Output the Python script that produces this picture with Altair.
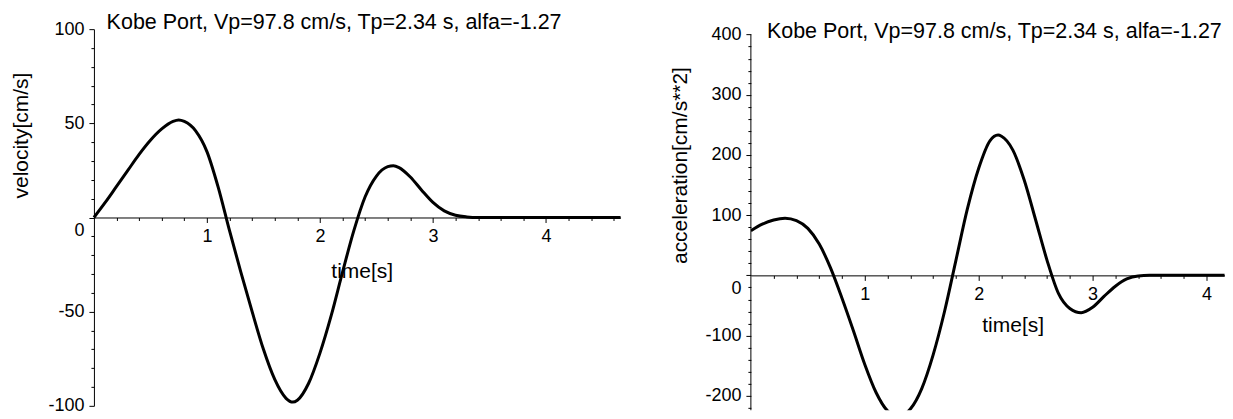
import altair as alt
import pandas as pd

TITLE = "Kobe Port, Vp=97.8 cm/s, Tp=2.34 s, alfa=-1.27"

# velocity curve
vel_time = [0, 0.1, 0.2, 0.3, 0.4, 0.5, 0.6, 0.7, 0.75, 0.8, 0.9, 1.0, 1.1, 1.2,
            1.3, 1.4, 1.5, 1.6, 1.7, 1.76, 1.8, 1.9, 2.0, 2.1, 2.2, 2.3, 2.4, 2.5,
            2.6, 2.65, 2.7, 2.8, 2.9, 3.0, 3.1, 3.2, 3.3, 3.4, 3.6, 4.0, 4.4, 4.66]
vel_value = [0, 8, 16.5, 25, 33.5, 41, 47, 51, 51.8, 51, 46, 35, 16, -7,
             -29, -50, -70, -86, -96, -98, -97, -88, -72, -52, -29, -7, 11, 22,
             27, 27.5, 26.5, 21.5, 14.5, 8, 3.5, 1.2, 0.3, 0, 0, 0, 0, 0]

# acceleration curve
acc_time = [0, 0.1, 0.2, 0.3, 0.4, 0.5, 0.6, 0.7, 0.8, 0.9, 1.0, 1.1, 1.2, 1.3,
            1.4, 1.5, 1.6, 1.7, 1.8, 1.9, 2.0, 2.1, 2.17, 2.2, 2.3, 2.4, 2.5, 2.6,
            2.7, 2.8, 2.9, 3.0, 3.1, 3.2, 3.3, 3.4, 3.5, 3.8, 4.16]
acc_value = [74, 85, 92, 95, 91, 78, 52, 12, -38, -92, -148, -195, -225, -234,
             -222, -188, -132, -60, 25, 110, 178, 224, 233, 231, 208, 158, 92, 25,
             -30, -55, -62, -53, -35, -18, -6, -1, 0, 0, 0]

# axis tick values
x_ticks_left = [0.2, 0.4, 0.6, 0.8, 1, 1.2, 1.4, 1.6, 1.8, 2, 2.2, 2.4, 2.6, 2.8,
                3, 3.2, 3.4, 3.6, 3.8, 4, 4.2, 4.4, 4.6]
x_ticks_right = [0.2, 0.4, 0.6, 0.8, 1, 1.2, 1.4, 1.6, 1.8, 2, 2.2, 2.4, 2.6, 2.8,
                 3, 3.2, 3.4, 3.6, 3.8, 4]
vel_ticks = list(range(-100, 101, 10))
acc_ticks = list(range(-220, 401, 20))
acc_axis_extent = [-224, 400]

FONT = "Liberation Sans"
BLACK = "#000000"

# layout (pixels)
T_MAX_L = 4.66
T_MAX_R = 4.16
PX_T_L = 113.1
PX_T_R = 114.0
V_DOM = [-100, 100]
A_DOM = [-224, 409]
H_L = 377
PX_A = 0.6025
H_R = (A_DOM[1] - A_DOM[0]) * PX_A
W_L = T_MAX_L * PX_T_L
W_R = T_MAX_R * PX_T_R
OFF_L = -H_L * (0 - V_DOM[0]) / (V_DOM[1] - V_DOM[0])
OFF_R = -H_R * (0 - A_DOM[0]) / (A_DOM[1] - A_DOM[0])


def x_axis(offset, tx, ty, ticks):
    return alt.Axis(
        values=ticks, offset=offset, grid=False,
        domainColor=BLACK, domainWidth=1, tickColor=BLACK, tickWidth=1,
        tickSize={"condition": {"test": "datum.value % 1 === 0", "value": 5}, "value": 3},
        labelExpr="datum.value % 1 === 0 ? '' + datum.value : ''",
        labelFont=FONT, labelFontSize=18, labelColor=BLACK, labelPadding=5,
        labelFlush=False, labelOverlap=False,
        title="time[s]", titleFont=FONT, titleFontSize=21, titleFontWeight="normal",
        titleColor=BLACK, titleX=tx, titleY=ty, titleAlign="center",
        titleBaseline="middle", titleAngle=0,
    )


def y_axis(title, major, tx, ty, ticks, domain=True):
    return alt.Axis(
        values=ticks, grid=False, domain=domain,
        domainColor=BLACK, domainWidth=1, tickColor=BLACK, tickWidth=1,
        tickSize={"condition": {"test": f"datum.value % {major} === 0", "value": 5}, "value": 3},
        labelExpr=f"datum.value % {major} === 0 ? '' + datum.value : ''",
        labelOffset={"condition": {"test": "datum.value === 0", "value": 13}, "value": 0},
        labelFont=FONT, labelFontSize=18, labelColor=BLACK, labelPadding=5,
        labelFlush=False, labelOverlap=False,
        title=title, titleFont=FONT, titleFontSize=21, titleFontWeight="normal",
        titleColor=BLACK, titleX=tx, titleY=ty, titleAlign="center",
        titleBaseline="middle", titleAngle=270,
    )


def panel_title(dx, dy):
    return alt.TitleParams(
        text=TITLE, anchor="start", frame="group", baseline="alphabetic",
        offset=0, dx=dx, dy=dy, font=FONT, fontSize=21.5, fontWeight="normal",
        color=BLACK,
    )


vel_df = pd.DataFrame({"t": vel_time, "v": vel_value})
acc_df = pd.DataFrame({"t": acc_time, "a": acc_value})
rule_df = pd.DataFrame({"lo": [acc_axis_extent[0]], "hi": [acc_axis_extent[1]]})

left = alt.Chart(vel_df).mark_line(color=BLACK, strokeWidth=3, interpolate="monotone").encode(
    x=alt.X("t:Q", scale=alt.Scale(domain=[0, T_MAX_L], nice=False, zero=False),
            axis=x_axis(OFF_L, 268, 54, x_ticks_left)),
    y=alt.Y("v:Q", scale=alt.Scale(domain=V_DOM, nice=False),
            axis=y_axis("velocity[cm/s]", 50, -72, 106, vel_ticks)),
).properties(width=W_L, height=H_L, title=panel_title(12.7, 30))

acc_y_axis = y_axis("acceleration[cm/s**2]", 100, -70, 136, acc_ticks, domain=False)
acc_line = alt.Chart(acc_df).mark_line(color=BLACK, strokeWidth=3, interpolate="monotone", clip=True).encode(
    x=alt.X("t:Q", scale=alt.Scale(domain=[0, T_MAX_R], nice=False, zero=False),
            axis=x_axis(OFF_R, 262, 50, x_ticks_right)),
    y=alt.Y("a:Q", scale=alt.Scale(domain=A_DOM, nice=False), axis=acc_y_axis),
)
acc_rule = alt.Chart(rule_df).mark_rule(color=BLACK, strokeWidth=1).encode(
    x=alt.value(0),
    y=alt.Y("lo:Q", axis=acc_y_axis),
    y2="hi:Q",
)
right = alt.layer(acc_line, acc_rule).properties(
    width=W_R, height=H_R, title=panel_title(16, 34))

chart = alt.hconcat(left, right, spacing=129.5, bounds="flush").configure_view(
    stroke=None
).properties(padding={"left": 3, "top": 3, "right": 0, "bottom": 0})

chart.save("out.html", embed_options={"renderer": "svg", "actions": False})
